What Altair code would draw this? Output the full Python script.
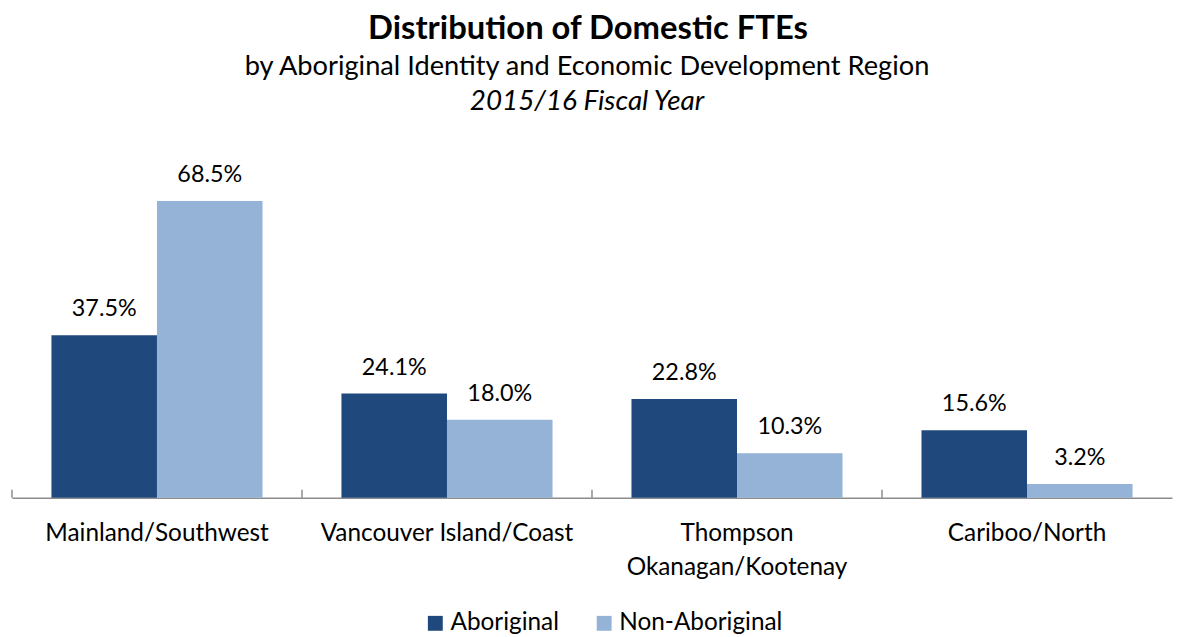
import altair as alt
import pandas as pd

regions = ["Mainland/Southwest", "Vancouver Island/Coast", "Thompson Okanagan/Kootenay", "Cariboo/North"]
groups = ["Aboriginal", "Non-Aboriginal"]
aboriginal = [37.5, 24.1, 22.8, 15.6]
non_aboriginal = [68.5, 18.0, 10.3, 3.2]
colors = ["#1F497D", "#95B3D7"]

# zero-width non-joiner keeps Lato from drawing a "ti" ligature
title_line1 = "Distribution of Domes\u200ctic FTEs"
title_line2 = "by Aboriginal Identity and Economic Development Region"
title_line3 = "2015/16 Fiscal Year"

rows = []
for r, a, n in zip(regions, aboriginal, non_aboriginal):
    rows.append({"region": r, "group": groups[0], "value": a})
    rows.append({"region": r, "group": groups[1], "value": n})
df = pd.DataFrame(rows)
df["label"] = df["value"].map(lambda v: f"{v:.1f}%")

W, H = 1168, 349
FONT = "Lato"

x_enc = alt.X(
    "region:N", sort=regions, title=None,
    scale=alt.Scale(paddingInner=0, paddingOuter=0),
    axis=alt.Axis(
        labelAngle=0, ticks=False, domainColor="#8c8c8c", domainWidth=1.5,
        labelFont=FONT, labelFontSize=24.5, labelColor="black", labelPadding=24,
        labelLimit=400, labelOverlap=False, labelLineHeight=34,
        labelExpr="datum.label == 'Thompson Okanagan/Kootenay' ? ['Thompson', 'Okanagan/Kootenay'] : datum.label",
    ),
)
xoff_enc = alt.XOffset("group:N", sort=groups, scale=alt.Scale(paddingOuter=0.374, paddingInner=0))
y_enc = alt.Y("value:Q", scale=alt.Scale(domain=[0, 80]), axis=None)

base = alt.Chart(df).encode(x=x_enc, xOffset=xoff_enc, y=y_enc)

bars = base.mark_bar().encode(
    color=alt.Color(
        "group:N", sort=groups,
        scale=alt.Scale(domain=groups, range=colors),
        legend=alt.Legend(
            orient="none", legendX=414, legendY=463, direction="horizontal",
            title=None, symbolType="square", symbolSize=225, symbolStrokeWidth=0,
            labelFont=FONT, labelFontSize=24.5, labelColor="black", labelOffset=3,
            labelLimit=400, columnPadding=33, padding=0,
        ),
    )
)

labels = base.mark_text(baseline="middle", dy=-26, font=FONT, fontSize=23.5, color="black").encode(
    text="label:N"
)

ticks_df = pd.DataFrame({"region": regions})
ticks = alt.Chart(ticks_df).mark_rule(color="#8c8c8c", strokeWidth=1.5).encode(
    x=alt.X("region:N", sort=regions, bandPosition=0),
    y=alt.value(H - 8),
    y2=alt.value(H),
)

t1 = alt.Chart(pd.DataFrame({"t": [title_line1]})).mark_text(
    font=FONT, fontSize=33, fontWeight="bold", color="black", baseline="middle", align="center"
).encode(text="t:N", x=alt.value(580), y=alt.value(-123))
t2 = alt.Chart(pd.DataFrame({"t": [title_line2]})).mark_text(
    font=FONT, fontSize=27.4, color="black", baseline="middle", align="center"
).encode(text="t:N", x=alt.value(579), y=alt.value(-85))
t3 = alt.Chart(pd.DataFrame({"t": [title_line3]})).mark_text(
    font=FONT, fontSize=28, fontStyle="italic", color="black", baseline="middle", align="center"
).encode(text="t:N", x=alt.value(579), y=alt.value(-49))

chart = alt.layer(bars, labels, ticks, t1, t2, t3).properties(
    width=W, height=H,
    autosize=alt.AutoSizeParams(type="none"),
    padding={"left": 4, "top": 142, "right": 2, "bottom": 141},
).configure_view(stroke=None)

chart.save("out.html", embed_options={"renderer": "svg", "actions": False})
